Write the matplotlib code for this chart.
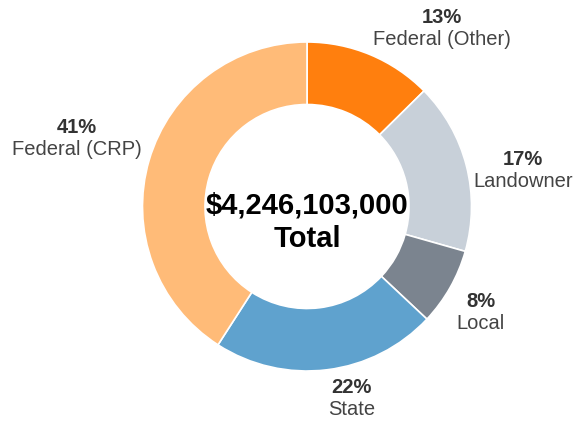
import numpy as np
import matplotlib
matplotlib.use('Agg')
import matplotlib.pyplot as plt
from matplotlib.offsetbox import TextArea, VPacker, AnnotationBbox

plt.rcParams['font.family'] = ['Liberation Sans', 'DejaVu Sans']

# data: share of total funding (%), clockwise from 12 o'clock
sources = ['Federal (Other)', 'Landowner', 'Local', 'State', 'Federal (CRP)']
shares  = [12.6, 16.8, 7.6, 22.1, 40.9]
colors  = ['#ff7f0e', '#c8d0d9', '#7b848f', '#5fa2ce', '#ffbb78']
total   = 4246103000

# layout in pixels (figure is 587 x 427)
W, H = 587, 427
cx, cy = 307, H - 207.5
R = 164.5
ring = 62.5

fig = plt.figure(figsize=(W / 100, H / 100), dpi=100)
ax = fig.add_axes([0, 0, 1, 1])

wedges, _ = ax.pie(shares, colors=colors, startangle=90, counterclock=False,
                   center=(cx, cy), radius=R,
                   wedgeprops=dict(width=ring, edgecolor='white', linewidth=1.2))

ax.set_xlim(0, W)
ax.set_ylim(0, H)
ax.set_aspect('equal')
ax.axis('off')

# labels anchored just outside each wedge's mid angle
for w, name, s in zip(wedges, sources, shares):
    mid = np.deg2rad((w.theta1 + w.theta2) / 2)
    x = cx + R * 1.045 * np.cos(mid)
    y = cy + R * 1.045 * np.sin(mid)
    fx = 0 if np.cos(mid) > 0 else 1
    if np.sin(mid) > 0.26:
        fy = 0
    elif np.sin(mid) < -0.26:
        fy = 1
    else:
        fy = 0.65
    pct = TextArea(f'{round(s)}%', textprops=dict(fontsize=14.5, fontweight='bold', color='#333333'))
    lab = TextArea(name, textprops=dict(fontsize=14.5, color='#444444'))
    box = VPacker(children=[pct, lab], align='center', pad=0, sep=2)
    ab = AnnotationBbox(box, (x, y), xycoords='data', box_alignment=(fx, fy),
                        frameon=False, pad=0)
    ax.add_artist(ab)

ax.text(cx, cy - 15, f'${total:,}\nTotal', ha='center', va='center',
        fontsize=21, fontweight='bold', color='black', linespacing=1.25)

plt.savefig('out.png', dpi=100)
